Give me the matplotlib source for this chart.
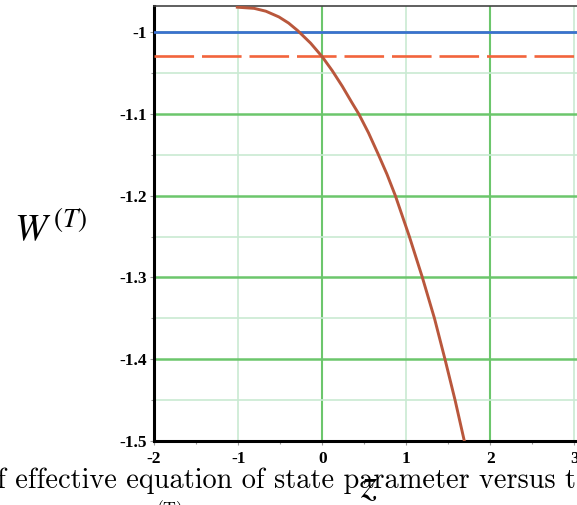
import numpy as np
import matplotlib
matplotlib.use("Agg")
from matplotlib import pyplot as plt
from matplotlib.ticker import MultipleLocator

# punti
z_vals = [-1.01, -0.81, -0.67, -0.515, -0.4, -0.29, -0.138, 0.0, 0.119, 0.238, 0.357,
          0.435, 0.55, 0.665, 0.77, 0.87, 1.035, 1.19, 1.335, 1.46, 1.58, 1.69]
w_vals = [-0.9694, -0.9708, -0.9743, -0.9813, -0.9888, -0.9982, -1.0134, -1.030, -1.047, -1.066, -1.0868,
          -1.1, -1.123, -1.149, -1.1737, -1.2, -1.2495, -1.2996, -1.35, -1.4, -1.45, -1.5]
w_blu = -1.0
w_tratteggio = -1.029
x_ticks = [-2, -1, 0, 1, 2, 3]
y_ticks = [-1.5, -1.4, -1.3, -1.2, -1.1, -1.0]
y_labels = ["-1.5", "-1.4", "-1.3", "-1.2", "-1.1", "-1"]

fig = plt.figure(figsize=(5.77, 5.05), dpi=100)
ax = fig.add_axes([0.267, 0.1267, 0.733, 0.8613])

verde = "#6cc66c"
verde_chiaro = "#c9ead2"

# griglia
for x in [-1, 1, 3]:
    ax.axvline(x, color=verde_chiaro, lw=1.2, zorder=1)
for x in [-2, 0, 2]:
    ax.axvline(x, color=verde, lw=1.5, zorder=1)
for y in [-1.45, -1.35, -1.25, -1.15, -1.05]:
    ax.axhline(y, color=verde_chiaro, lw=1.2, zorder=1)
for y in y_ticks:
    ax.axhline(y, color=verde, lw=1.8, zorder=1)

ax.axhline(w_blu, color="#3b6fd4", lw=1.9, zorder=3)
ax.axhline(w_tratteggio, color="#f2643c", lw=1.9, dashes=(15, 3), zorder=3)
ax.plot(z_vals, w_vals, color="#b9573c", lw=2.1, zorder=4, solid_joinstyle="round")

ax.set_xlim(-2, 3.03)
ax.set_ylim(-1.5, -0.968)

ax.set_xticks(x_ticks)
ax.set_yticks(y_ticks)
ax.xaxis.set_minor_locator(MultipleLocator(0.5))
ax.yaxis.set_minor_locator(MultipleLocator(0.05))
ax.set_yticklabels(y_labels)
ax.set_xticklabels([str(t) for t in x_ticks])
ax.tick_params(which="both", direction="out", length=3, width=0.8, color="#999999",
               labelsize=12.5, pad=2)
ax.tick_params(axis="x", pad=4)
ax.tick_params(which="minor", length=2)
for lab in ax.get_xticklabels() + ax.get_yticklabels():
    lab.set_family("Liberation Serif")
    lab.set_fontweight("bold")

ax.spines["right"].set_visible(False)
ax.spines["left"].set_linewidth(2.2)
ax.spines["bottom"].set_linewidth(2.2)
ax.spines["top"].set_linewidth(1.2)
ax.spines["top"].set_color("#444444")

# etichette
fig.text(0.025, 0.545, r"$W^{\,(T)}$", fontsize=28, va="center", ha="left",
         math_fontfamily="stix")
fig.text(0.64, 0.04, r"$z$", fontsize=30, ha="center", va="center",
         math_fontfamily="stix")

# didascalia tagliata
fig.text(-0.03, 0.033, "of effective equation of state parameter versus t",
         fontsize=20.4, family="cmr10", ha="left", va="baseline")
fig.text(0.27, -0.018, "(T)", fontsize=13, family="cmr10", ha="left", va="baseline")

fig.savefig("out.png", dpi=100)
